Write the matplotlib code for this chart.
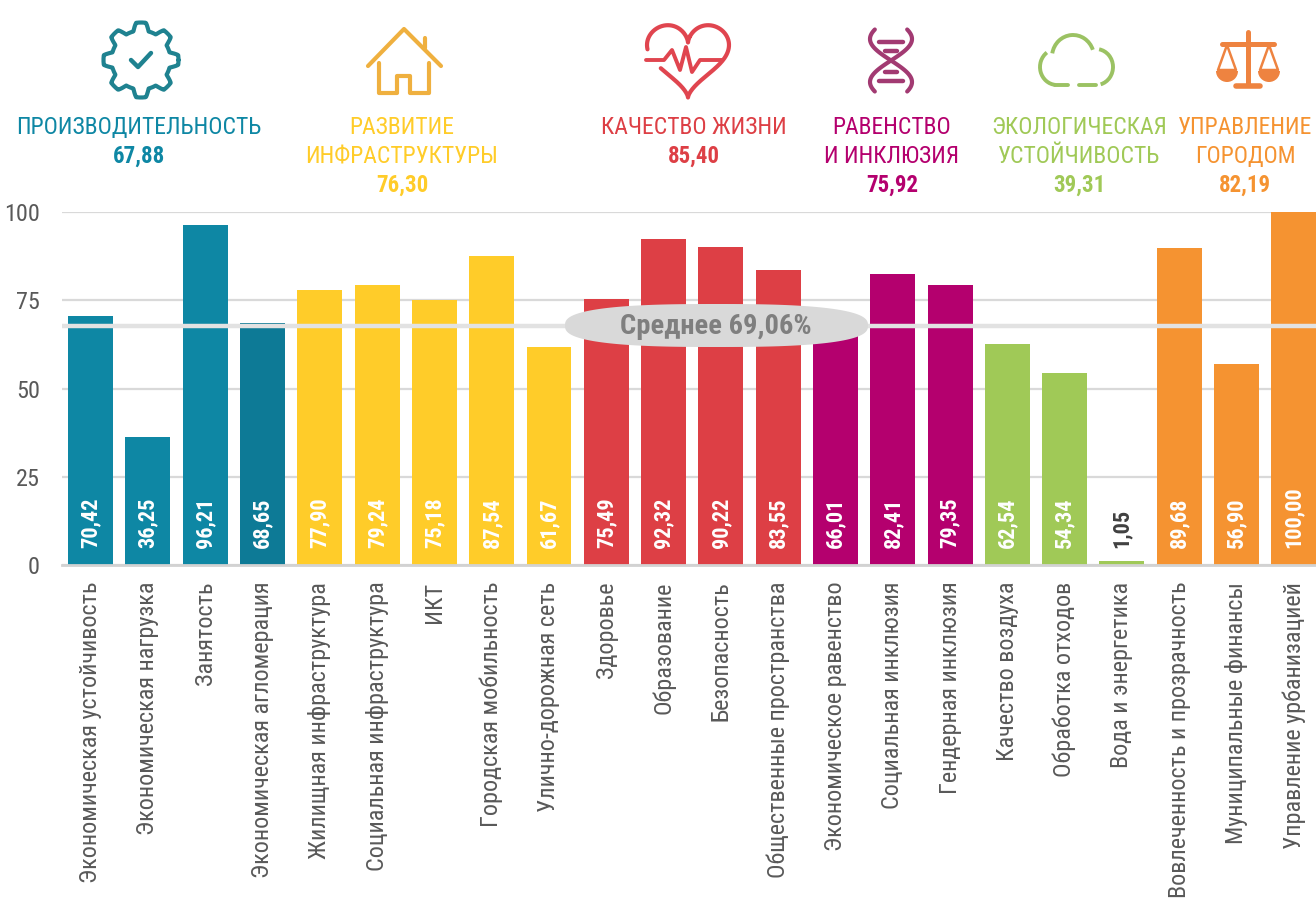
import numpy as np
import matplotlib
matplotlib.use("Agg")
import matplotlib.pyplot as plt
from matplotlib.patches import Polygon, Arc, Wedge

plt.rcParams["font.family"] = ["Roboto Condensed", "PT Sans Narrow", "Liberation Sans", "DejaVu Sans"]

# Data
categories = [
    "Экономическая устойчивость", "Экономическая нагрузка", "Занятость", "Экономическая агломерация",
    "Жилищная инфраструктура", "Социальная инфраструктура", "ИКТ", "Городская мобильность",
    "Улично-дорожная сеть", "Здоровье", "Образование", "Безопасность", "Общественные пространства",
    "Экономическое равенство", "Социальная инклюзия", "Гендерная инклюзия",
    "Качество воздуха", "Обработка отходов", "Вода и энергетика",
    "Вовлеченность и прозрачность", "Муниципальные финансы", "Управление урбанизацией",
]
values = [70.42, 36.25, 96.21, 68.65, 77.90, 79.24, 75.18, 87.54, 61.67, 75.49, 92.32,
          90.22, 83.55, 66.01, 82.41, 79.35, 62.54, 54.34, 1.05, 89.68, 56.90, 100.00]
bar_colors = ["#0E87A4"] * 3 + ["#0D7A96"] + ["#FFCC29"] * 5 + ["#DD3F45"] * 4 + ["#B4006E"] * 3 \
    + ["#A0C957"] * 3 + ["#F59331"] * 3
yticks = [0, 25, 50, 75, 100]

average_level = 67.7
average_label = "Среднее 69,06%"

group_titles = ["ПРОИЗВОДИТЕЛЬНОСТЬ", "РАЗВИТИЕ\nИНФРАСТРУКТУРЫ", "КАЧЕСТВО ЖИЗНИ",
                "РАВЕНСТВО\nИ ИНКЛЮЗИЯ", "ЭКОЛОГИЧЕСКАЯ\nУСТОЙЧИВОСТЬ", "УПРАВЛЕНИЕ\nГОРОДОМ"]
group_scores = ["67,88", "76,30", "85,40", "75,92", "39,31", "82,19"]
group_colors = ["#0E87A4", "#FFCC29", "#DD3F45", "#B4006E", "#A0C957", "#F59331"]
group_x = [139, 402, 694, 892, 1079, 1245]

W, H = 1316, 901
fig = plt.figure(figsize=(W / 100, H / 100), dpi=100)

# Bar chart
ax = fig.add_axes([62 / W, (H - 565) / H, (W - 62) / W, 353 / H])
x = np.arange(len(values))
ax.bar(x, values, width=0.785, color=bar_colors, zorder=2)
ax.set_xlim(-0.5, (W - 90.5) / 57.3)
ax.set_ylim(0, 100)
ax.set_yticks(yticks)
ax.set_xticks(x)
ax.set_xticklabels(categories, rotation=90, fontsize=17.4, color="#595959")
ax.tick_params(axis="both", length=0, labelsize=17.4, labelcolor="#595959")
ax.tick_params(axis="x", pad=12)
ax.tick_params(axis="y", pad=16)
ax.grid(axis="y", color="#D9D9D9", lw=1.6, zorder=1)
ax.set_axisbelow(True)
for s in ax.spines.values():
    s.set_visible(False)
ax.spines["bottom"].set_visible(True)
ax.spines["bottom"].set_color("#D2D2D2")
ax.spines["bottom"].set_linewidth(2)
ax.axhline(average_level, color="#E2E2E2", lw=3.2, zorder=3)
ax.patch.set_visible(False)

for xi, v in zip(x, values):
    label = f"{v:.2f}".replace(".", ",")
    inside = v > 20
    ax.annotate(label, (xi, 0), xytext=(0, 12), textcoords="offset points",
                rotation=90, ha="center", va="bottom", fontsize=16, fontweight="bold",
                color="white" if inside else "#404040", zorder=4)

# Overlay in pixel coordinates for header, icons and the average pill
ov = fig.add_axes([0, 0, 1, 1])
ov.set_xlim(0, W)
ov.set_ylim(H, 0)
ov.axis("off")

for title, score, color, gx in zip(group_titles, group_scores, group_colors, group_x):
    lines = title.split("\n")
    y = 128
    for line in lines:
        ov.text(gx, y, line, ha="center", va="center", fontsize=17, color=color)
        y += 28.5
    ov.text(gx, y, score, ha="center", va="center", fontsize=16.5, fontweight="bold", color=color)

# Pill
t = np.linspace(0, 2 * np.pi, 200)
px = 716.5 + 151.5 * np.sign(np.cos(t)) * np.abs(np.cos(t)) ** 0.75
py = 325.5 + 21.5 * np.sign(np.sin(t)) * np.abs(np.sin(t)) ** 0.75
ov.add_patch(Polygon(np.c_[px, py], closed=True, fc="#D9D9D9", ec="none"))
ov.text(716, 327, average_label, ha="center", va="center", fontsize=20.5, fontweight="bold", color="#7F7F7F")


def stroke(xs, ys, color, lw=3.0):
    ov.plot(xs, ys, color=color, lw=lw, solid_capstyle="round", solid_joinstyle="round")


# Gear icon
c = "#1F8290"
a = np.linspace(0, 2 * np.pi, 400)
r = 33.5 + 4 * np.clip(2.0 * np.cos(8 * a), -1, 1)
stroke(141 + r * np.cos(a), 60 + r * np.sin(a), c)
stroke([131, 138, 151], [60, 67, 53], c, 3.2)

# House icon
c = "#EFB03F"
stroke([368, 404, 441], [66, 29, 66], c)
stroke([425, 425], [38, 48], c)
stroke([379, 379, 397, 397, 410, 410, 429, 429], [63, 93, 93, 76, 76, 93, 93, 63], c)

# Heart icon
c = "#E0454F"
a = np.linspace(0.12 * np.pi, 2.12 * np.pi, 300)
hx = 688 + 41 * np.sin(a) ** 3
hy = 55 - 2.5 * (13 * np.cos(a) - 5 * np.cos(2 * a) - 2 * np.cos(3 * a) - np.cos(4 * a))
hx[(hx < 660) & (hy > 50) & (hy < 70)] = np.nan
stroke(hx, hy, c)
stroke([646, 664, 672, 680, 686, 692, 700, 722], [60, 60, 50, 70, 47, 72, 60, 60], c, 2.8)

# DNA icon
c = "#A23A72"
a = np.linspace(-1, 1, 60)
stroke(891 + 21 * np.sin(a * np.pi * 0.72), 60.5 + 31 * a, c)
stroke(891 - 21 * np.sin(a * np.pi * 0.72), 60.5 + 31 * a, c)
for yy, dx in [(42, 12), (51, 6), (72, 6), (81, 12)]:
    stroke([891 - dx, 891 + dx], [yy, yy], c, 3.2)

# Cloud icon
c = "#9BC263"
ov.add_patch(Arc((1073, 57), 42, 44, theta1=190, theta2=340, ec=c, lw=2.8))
ov.add_patch(Arc((1057, 67), 34, 36, theta1=95, theta2=235, ec=c, lw=2.8))
ov.add_patch(Arc((1096, 67), 34, 36, theta1=280, theta2=435, ec=c, lw=2.8))
stroke([1055, 1068], [85, 85], c, 2.8)
stroke([1079, 1096], [85, 85], c, 2.8)

# Scales icon
c = "#EE8340"
stroke([1248, 1248], [32, 84], c, 3.6)
stroke([1222, 1274], [44, 44], c, 3.6)
stroke([1236, 1260], [86, 86], c, 4)
stroke([1227, 1218, 1236, 1227], [45, 70, 70, 45], c, 1.8)
stroke([1269, 1260, 1278, 1269], [45, 70, 70, 45], c, 1.8)
ov.add_patch(Wedge((1227, 71), 11, 0, 180, fc=c, ec="none"))
ov.add_patch(Wedge((1269, 71), 11, 0, 180, fc=c, ec="none"))

fig.savefig("out.png", dpi=100)
